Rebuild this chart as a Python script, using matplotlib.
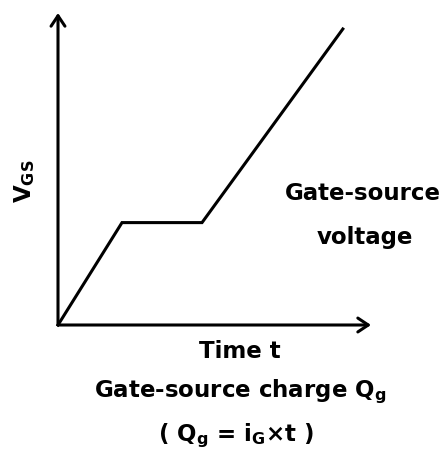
"""Gate-source voltage vs. time / gate charge sketch."""

import matplotlib
matplotlib.use("Agg")
import matplotlib.pyplot as plt

# line corner points (arbitrary units)
time_pts = [0.0, 2.0, 4.5, 8.9]
vgs_pts = [0.0, 3.2, 3.2, 9.25]
x_axis_end = 9.78
y_axis_end = 9.75

W, H = 446, 450
plt.rcParams["font.family"] = ["DejaVu Sans"]
plt.rcParams["font.weight"] = "bold"
plt.rcParams["mathtext.default"] = "bf"

fig = plt.figure(figsize=(W / 100, H / 100), dpi=100)
ax = fig.add_axes([58 / W, (H - 325) / H, 313 / W, 312 / H])
ax.set_xlim(0, x_axis_end)
ax.set_ylim(0, y_axis_end)
ax.axis("off")

lw = 2.2
ax.plot(time_pts, vgs_pts, color="black", lw=lw, solid_joinstyle="miter", clip_on=False)

arrow = dict(arrowstyle="->,head_length=0.75,head_width=0.5", color="black", lw=lw,
             shrinkA=0, shrinkB=0)
ax.annotate("", xy=(x_axis_end, 0), xytext=(0, 0), arrowprops=arrow, annotation_clip=False)
ax.annotate("", xy=(0, y_axis_end), xytext=(0, 0), arrowprops=arrow, annotation_clip=False)

fs = 16.5
ax.text(-1.05, 4.5, r"V$_{\mathbf{GS}}$", rotation=90, ha="center", va="center", fontsize=fs)
ax.text(9.53, 4.1, "Gate-source", ha="center", va="center", fontsize=fs)
ax.text(9.6, 2.72, "voltage", ha="center", va="center", fontsize=fs)

fig.text(240 / W, 1 - 352 / H, "Time t", ha="center", va="center", fontsize=fs)
fig.text(240 / W, 1 - 392 / H, r"Gate-source charge Q$_{\mathbf{g}}$", ha="center",
         va="center", fontsize=fs)
fig.text(236 / W, 1 - 436 / H, r"( Q$_{\mathbf{g}}$ = i$_{\mathbf{G}}$×t )", ha="center",
         va="center", fontsize=fs)

fig.savefig("out.png", dpi=100)
